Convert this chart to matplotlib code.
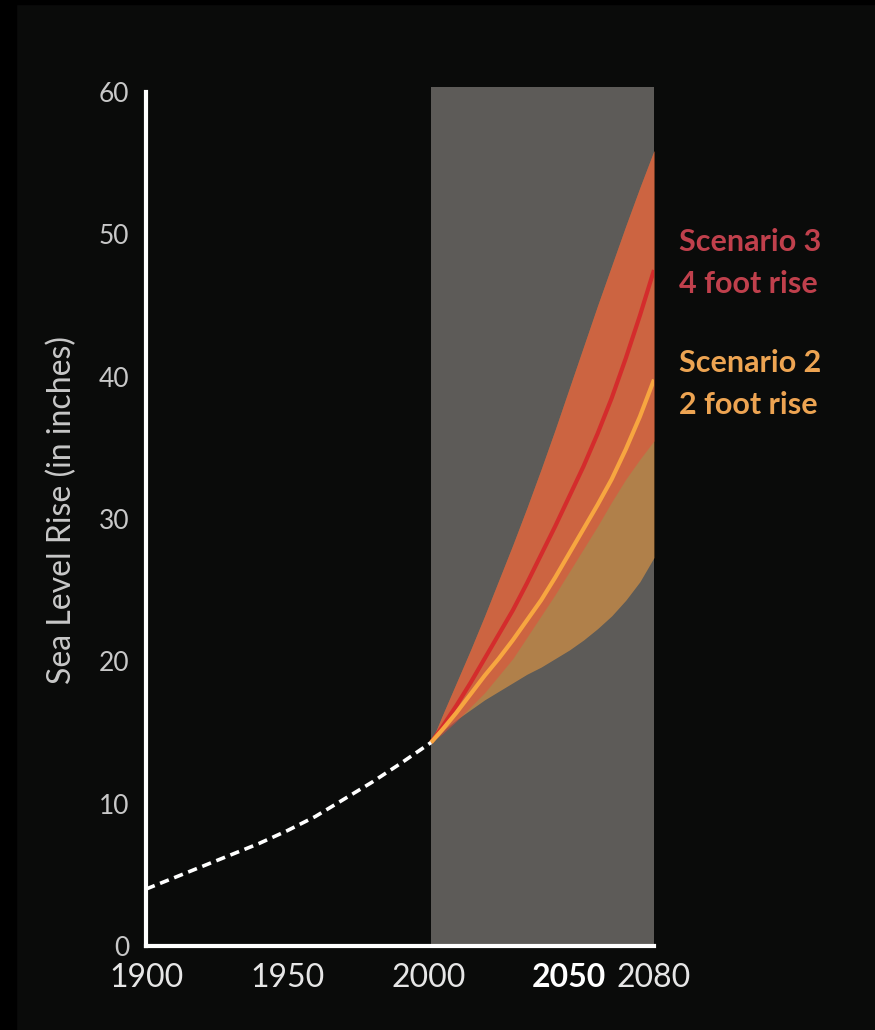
import numpy as np
import matplotlib.pyplot as plt
from matplotlib.patches import Rectangle

plt.rcParams['font.family'] = ['Lato', 'DejaVu Sans']

# historical record (dashed white)
hist_years = [1900, 1910, 1920, 1930, 1940, 1950, 1960, 1970, 1980, 1990, 2001]
hist_rise = [4.0, 4.8, 5.6, 6.4, 7.2, 8.1, 9.1, 10.3, 11.5, 12.8, 14.3]

# projections, read every 5 years
proj_years = [2001, 2005, 2010, 2015, 2020, 2025, 2030, 2035, 2040,
              2045, 2050, 2055, 2060, 2065, 2070, 2075, 2080]
s3_mid = [14.3, 15.4, 16.9, 18.5, 20.2, 21.9, 23.6, 25.5, 27.5,
          29.5, 31.6, 33.7, 36.0, 38.5, 41.3, 44.3, 47.5]
s3_low = [14.3, 14.9, 15.8, 16.8, 17.8, 19.0, 20.2, 21.7, 23.2,
          24.7, 26.3, 27.9, 29.5, 31.2, 32.8, 34.2, 35.5]
s3_high = [14.3, 16.2, 18.5, 20.8, 23.2, 25.7, 28.2, 30.8, 33.5,
           36.3, 39.2, 42.1, 45.0, 47.8, 50.6, 53.3, 55.9]
s2_mid = [14.3, 15.2, 16.4, 17.7, 19.0, 20.2, 21.5, 22.9, 24.3,
          25.9, 27.6, 29.3, 31.0, 32.8, 34.9, 37.2, 39.8]
s2_low = [14.3, 15.1, 15.9, 16.6, 17.3, 17.9, 18.5, 19.1, 19.6,
          20.2, 20.8, 21.5, 22.3, 23.2, 24.3, 25.6, 27.3]
s2_high = s3_high

x_ticks = [1900, 1950, 2000, 2050, 2080]
x_labels = ['1900', '1950', '2000', '2050', '2080']
y_ticks = [0, 10, 20, 30, 40, 50, 60]

bg = '#0a0b0a'
fig = plt.figure(figsize=(8.75, 10.3), dpi=100, facecolor=bg)
fig.patches.append(Rectangle((0, 0), 16 / 875, 1, transform=fig.transFigure, color='black', zorder=0))
fig.patches.append(Rectangle((0, 1 - 4 / 1030), 1, 4 / 1030, transform=fig.transFigure, color='black', zorder=0))

ax = fig.add_axes([146 / 875, 1 - 946 / 1030, 508 / 875, 60.5 * 14.23 / 1030])
ax.set_facecolor(bg)
ax.set_xlim(1900, 2080)
ax.set_ylim(0, 60.5)

# future window
ax.axvspan(2001, 2080, ymin=0, ymax=60.4 / 60.5, color='#5d5b58', lw=0, zorder=1)

ax.fill_between(proj_years, s2_low, s2_high, color='#f5a040', alpha=0.55, lw=0, zorder=2)
ax.fill_between(proj_years, s3_low, s3_high, color='#e84a3a', alpha=0.5, lw=0, zorder=3)
ax.plot(proj_years, s3_mid, color='#d42c2c', lw=3, zorder=4, solid_capstyle='butt')
ax.plot(proj_years, s2_mid, color='#f7a640', lw=3, zorder=4, solid_capstyle='butt')

ax.plot(hist_years, hist_rise, color='white', lw=2.6, dashes=(2.6, 1.6),
        dash_capstyle='butt', zorder=5, clip_on=False)

for side in ['top', 'right']:
    ax.spines[side].set_visible(False)
for side in ['left', 'bottom']:
    ax.spines[side].set_color('white')
    ax.spines[side].set_linewidth(3)
    ax.spines[side].set_zorder(6)
ax.spines['left'].set_bounds(0, 60)

ax.set_yticks(y_ticks)
ax.set_yticklabels([str(v) for v in y_ticks], fontsize=19, color='#c8c8c8')
ax.set_xticks(x_ticks)
ax.set_xticklabels(x_labels, fontsize=23, color='#e6e6e6')
ax.get_xticklabels()[3].set_fontweight('bold')
ax.get_xticklabels()[3].set_color('white')
ax.tick_params(axis='y', length=0, pad=12)
ax.tick_params(axis='x', length=0, pad=12)

fig.text(62 / 875, 1 - 510 / 1030, 'Sea Level Rise (in inches)', rotation=90,
         ha='center', va='center', fontsize=23, color='#c8c8c8')

ax.text(2089, 48.0, 'Scenario 3\n4 foot rise', color='#c0404c', fontsize=22,
        fontweight='bold', ha='left', va='center', linespacing=1.6, clip_on=False)
ax.text(2089, 39.5, 'Scenario 2\n2 foot rise', color='#eda452', fontsize=22,
        fontweight='bold', ha='left', va='center', linespacing=1.6, clip_on=False)

fig.savefig('out.png', dpi=100, facecolor=fig.get_facecolor())
